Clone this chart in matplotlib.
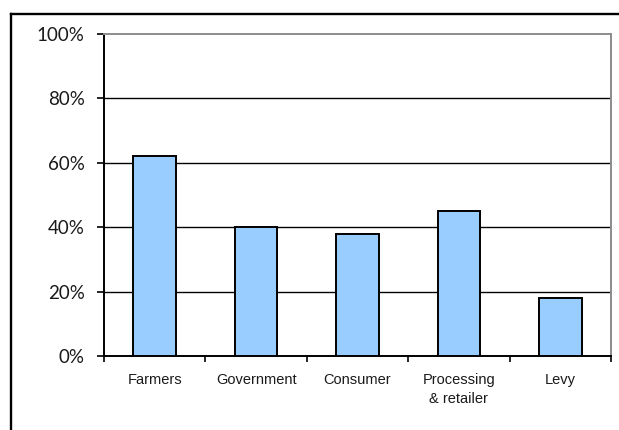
import matplotlib
matplotlib.use("Agg")
import matplotlib.pyplot as plt
from matplotlib.lines import Line2D
from matplotlib.ticker import FixedLocator, NullFormatter

categories = ["Farmers", "Government", "Consumer", "Processing\n& retailer", "Levy"]
shares = [62, 40, 38, 45, 18]
y_ticks = [0, 20, 40, 60, 80, 100]
y_labels = ["0%", "20%", "40%", "60%", "80%", "100%"]

W, H = 619, 430
fig = plt.figure(figsize=(W / 100, H / 100), dpi=100)
fig.patch.set_facecolor("white")

# outer chart border (runs off the right and bottom edges)
fig.add_artist(Line2D([11 / W, 11 / W], [1 - 14 / H, -0.05], color="black", lw=1.7,
                      transform=fig.transFigure, solid_capstyle="projecting"))
fig.add_artist(Line2D([11 / W, 1.05], [1 - 14 / H, 1 - 14 / H], color="black", lw=1.7,
                      transform=fig.transFigure, solid_capstyle="projecting"))

left, right, top, bottom = 104, 611, 34, 356
ax = fig.add_axes([left / W, 1 - bottom / H, (right - left) / W, (bottom - top) / H])

x = list(range(len(categories)))
ax.bar(x, shares, width=0.42, color="#99CCFF", edgecolor="black", linewidth=1.4, zorder=3)

ax.set_xlim(-0.5, len(categories) - 0.5)
ax.set_ylim(0, 100)

ax.set_yticks(y_ticks)
ax.set_yticklabels(y_labels, fontfamily="Lato", fontsize=13.5, color="#1a1a1a")
ax.tick_params(axis="y", direction="out", length=5, width=1.2, pad=9, color="black")

# category boundaries carry the tick marks, centres carry the labels
ax.xaxis.set_major_locator(FixedLocator([i - 0.5 for i in range(len(categories) + 1)]))
ax.xaxis.set_major_formatter(NullFormatter())
ax.xaxis.set_minor_locator(FixedLocator(x))
ax.set_xticklabels(categories, minor=True, fontfamily="Liberation Sans", fontsize=10.5,
                   linespacing=1.45, va="top", color="#1a1a1a")
ax.tick_params(axis="x", which="major", direction="out", length=4, width=1.2, color="black")
ax.tick_params(axis="x", which="minor", length=0, pad=12)

for y in y_ticks[1:-1]:
    ax.axhline(y, color="black", lw=1.0, zorder=1)

ax.spines["left"].set_color("black")
ax.spines["left"].set_linewidth(1.4)
ax.spines["bottom"].set_color("black")
ax.spines["bottom"].set_linewidth(1.4)
ax.spines["top"].set_color("#8c8c8c")
ax.spines["top"].set_linewidth(1.4)
ax.spines["right"].set_color("#8c8c8c")
ax.spines["right"].set_linewidth(1.4)

fig.savefig("out.png", dpi=100, facecolor="white")
